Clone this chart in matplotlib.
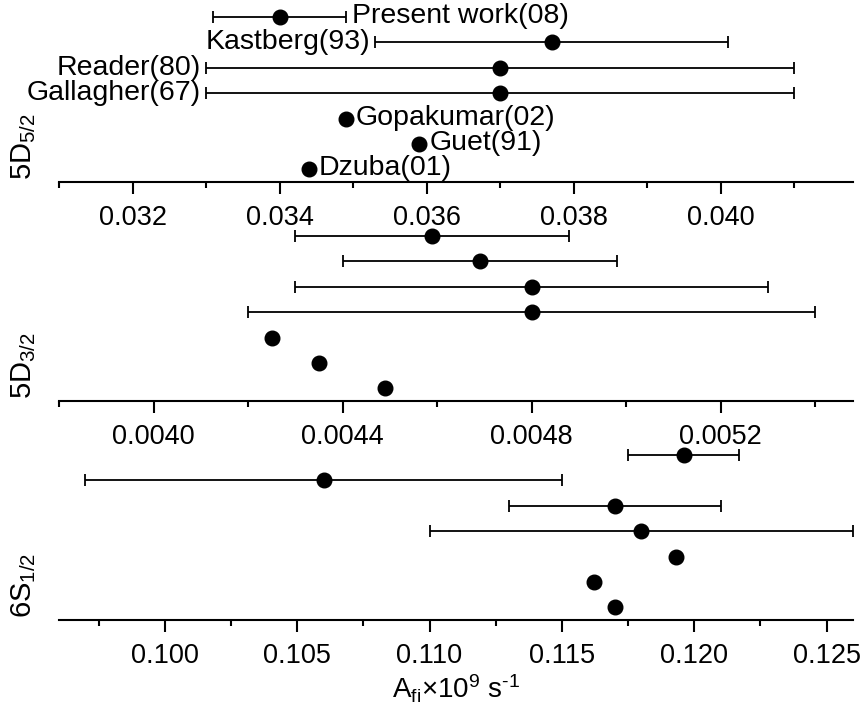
import numpy as np
import matplotlib
matplotlib.use("Agg")
import matplotlib.pyplot as plt
from matplotlib.ticker import MultipleLocator, FormatStrFormatter

plt.rcParams['font.family'] = ['Liberation Sans', 'DejaVu Sans']
plt.rcParams['mathtext.fontset'] = 'custom'
plt.rcParams['mathtext.rm'] = 'Liberation Sans'
plt.rcParams['mathtext.it'] = 'Liberation Sans'

# rows listed top -> bottom, None = no error bar
refs = ["Present work(08)", "Kastberg(93)", "Reader(80)", "Gallagher(67)",
        "Gopakumar(02)", "Guet(91)", "Dzuba(01)"]

d52_val = [0.0340, 0.0377, 0.0370, 0.0370, 0.0349, 0.0359, 0.0344]
d52_err = [0.0009, 0.0024, 0.0040, 0.0040, None, None, None]

d32_val = [0.00459, 0.00469, 0.0048, 0.0048, 0.00425, 0.00435, 0.00449]
d32_err = [0.00029, 0.00029, 0.0005, 0.0006, None, None, None]

s12_val = [0.1196, 0.1060, 0.1170, 0.1180, 0.1193, 0.1162, 0.1170]
s12_err = [0.0021, 0.0090, 0.0040, 0.0080, None, None, None]

levels = [r'5D$_{5/2}$', r'5D$_{3/2}$', r'6S$_{1/2}$']
xlims = [(0.031, 0.0418), (0.0038, 0.00548), (0.096, 0.126)]
majors = [0.002, 0.0004, 0.005]
fmts = ['%.3f', '%.4f', '%.3f']

# which side of the point each reference name goes (top panel only)
label_side = ['right', 'left', 'left', 'left', 'right', 'right', 'right']

W, H = 863, 711
fig = plt.figure(figsize=(W / 100, H / 100), dpi=100)
ys = np.arange(len(refs), 0, -1)
row_px = 25.4
bottoms_px = [182, 401, 620]

axes = []
for i, (vals, errs) in enumerate([(d52_val, d52_err), (d32_val, d32_err), (s12_val, s12_err)]):
    b = bottoms_px[i]
    ax = fig.add_axes([59 / W, 1 - b / H, (853 - 59) / W, 7.1 * row_px / H])
    ax.patch.set_alpha(0)
    for v, e, y in zip(vals, errs, ys):
        if e is not None:
            ax.errorbar(v, y, xerr=e, fmt='none', ecolor='k', elinewidth=1.3,
                        capsize=4, capthick=1.3)
    ax.plot(vals, ys, 'o', color='k', ms=10.5, zorder=3)
    ax.set_xlim(*xlims[i])
    ax.set_ylim(0.5, 7.6)
    for s in ['left', 'right', 'top']:
        ax.spines[s].set_visible(False)
    ax.spines['bottom'].set_linewidth(1.5)
    ax.set_yticks([])
    ax.xaxis.set_major_locator(MultipleLocator(majors[i]))
    ax.xaxis.set_minor_locator(MultipleLocator(majors[i] / 2))
    ax.xaxis.set_major_formatter(FormatStrFormatter(fmts[i]))
    ax.tick_params(axis='x', which='major', length=8.5, width=1.5, labelsize=19.5, pad=8)
    ax.tick_params(axis='x', which='minor', length=4.5, width=1.5)
    fig.text(24 / W, 1 - (b - 2) / H, levels[i], rotation=90, ha='center', va='bottom',
             fontsize=21)
    axes.append(ax)

# reference names in the top panel
ax = axes[0]
for name, v, e, y, side in zip(refs, d52_val, d52_err, ys, label_side):
    if side == 'right':
        x0 = v + e if e is not None else v
        off = 6 if e is not None else 10
        ax.annotate(name, (x0, y), xytext=(off, 1), textcoords='offset pixels',
                    ha='left', va='center', fontsize=20.5)
    else:
        x0 = v - e if e is not None else v
        ax.annotate(name, (x0, y), xytext=(-5, 0), textcoords='offset pixels',
                    ha='right', va='center', fontsize=20.5)

axes[2].set_xlabel(r'A$_{\mathrm{fi}}$×10$^{9}$ s$^{\text{-1}}$', fontsize=20, labelpad=3)

fig.savefig('out.png', dpi=100)
